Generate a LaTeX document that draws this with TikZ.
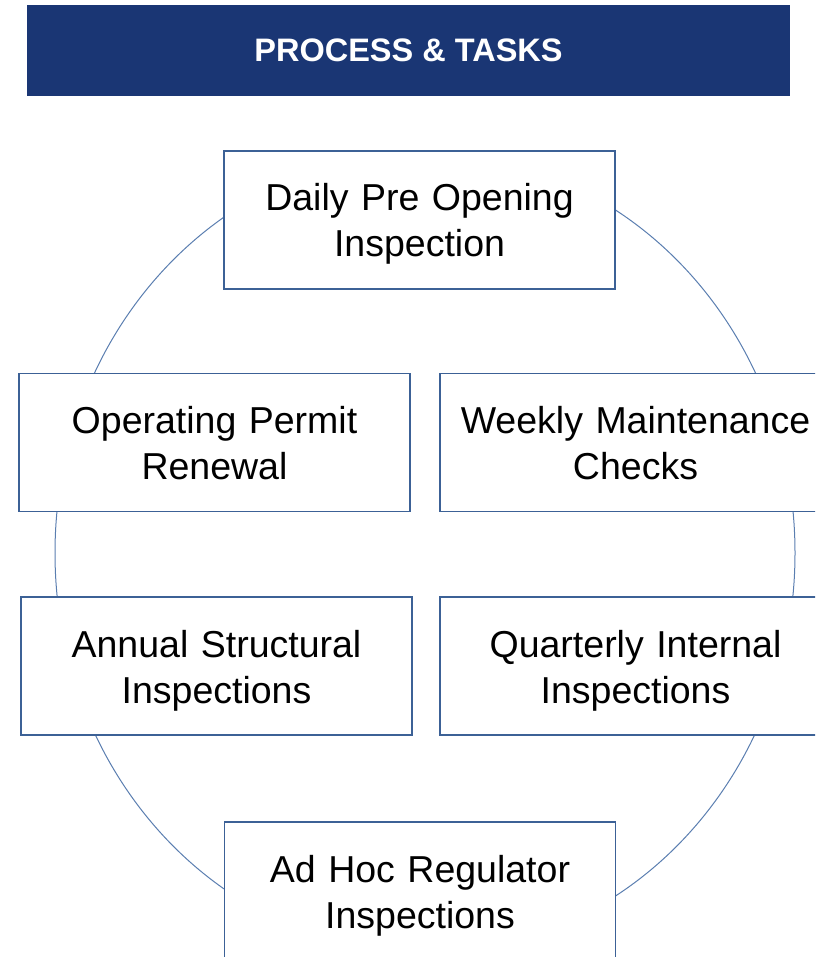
\documentclass[tikz,border=0pt]{standalone}
\usepackage{fontspec}
\setmainfont{Liberation Sans}
\usepackage{tikz}
\usetikzlibrary{positioning}
\definecolor{navy}{HTML}{1A3674}
\definecolor{boxline}{HTML}{3C6196}
\definecolor{ringline}{HTML}{5A7EB0}
\tikzset{
	taskbox/.style={draw=boxline, line width=1.6pt, fill=white, text width=391pt, text height=60pt, text depth=78pt, inner sep=0pt, align=center, font=\fontsize{37.5}{46}\selectfont},
	header/.style={fill=navy, text=white, minimum width=763pt, minimum height=91pt, inner sep=0pt, font=\fontsize{32.5}{36}\selectfont\bfseries},
	ring/.style={draw=ringline, line width=1pt}
}

\begin{document}
\begin{tikzpicture}[x=1pt, y=-1pt]
		%%%%% START %%%%%
		
		\useasboundingbox (0, 0) rectangle (815, 957);
		\clip (0, 0) rectangle (815, 957);
		
		\node[header] (title) at (408.5, 50.5) {PROCESS \& TASKS};
		
		\coordinate (hub) at (425, 553);
		\draw[ring] (hub) ellipse [x radius=370, y radius=400];
		
		\node[taskbox] (daily) at (419.5, 220) {Daily Pre Opening\\Inspection};
		\node[taskbox] (permit) at (214.5, 442.5) {Operating Permit\\Renewal};
		\node[taskbox] (weekly) at (635.5, 442.5) {Weekly Maintenance\\Checks};
		\node[taskbox] (annual) at (216.5, 666) {Annual Structural\\Inspections};
		\node[taskbox] (quarterly) at (635.5, 666) {Quarterly Internal\\Inspections};
		\node[taskbox] (adhoc) at (420, 891) {Ad Hoc Regulator\\Inspections};
		
		%%%%% END %%%%%
	\end{tikzpicture}
\end{document}
